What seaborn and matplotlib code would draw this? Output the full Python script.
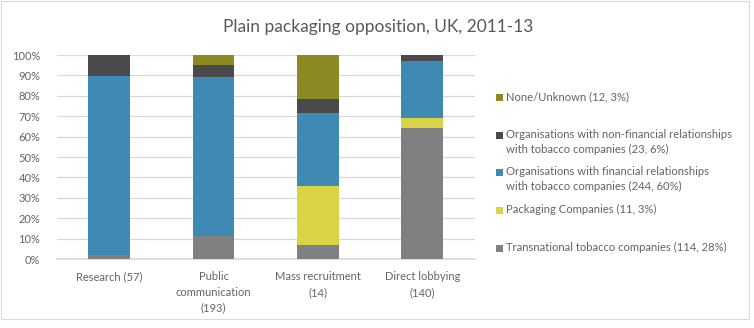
import numpy as np
import pandas as pd
import matplotlib
matplotlib.use("Agg")
import matplotlib.pyplot as plt
import seaborn as sns
from matplotlib.patches import Rectangle

categories = ["Research (57)", "Public\ncommunication\n(193)", "Mass recruitment\n(14)", "Direct lobbying\n(140)"]
series_names = [
    "Transnational tobacco companies (114, 28%)",
    "Packaging Companies (11, 3%)",
    "Organisations with financial relationships\nwith tobacco companies (244, 60%)",
    "Organisations with non-financial relationships\nwith tobacco companies (23, 6%)",
    "None/Unknown (12, 3%)",
]
transnational = [1.8, 11.4, 7.1, 64.3]
packaging = [0.0, 0.0, 28.6, 5.0]
financial = [87.7, 77.7, 35.7, 27.9]
non_financial = [10.5, 6.2, 7.1, 2.8]
none_unknown = [0.0, 4.7, 21.4, 0.0]
colors = ["#808082", "#D9D446", "#3F89B5", "#4A4A4D", "#8C8A22"]
yticks = [0, 10, 20, 30, 40, 50, 60, 70, 80, 90, 100]
ytick_labels = [f"{v}%" for v in yticks]

series = [transnational, packaging, financial, non_financial, none_unknown]

sns.set_theme(style="white")
plt.rcParams["font.family"] = ["Lato", "DejaVu Sans"]
text_color = "#646464"

fig = plt.figure(figsize=(7.54, 3.28), dpi=100)
ax = fig.add_axes([57 / 754, 1 - 259 / 328, (474.5 - 57) / 754, (259 - 55) / 328])

cum = np.cumsum(np.array(series), axis=0)
for i in range(len(series) - 1, -1, -1):
    df = pd.DataFrame({"cat": categories, "val": cum[i]})
    sns.barplot(data=df, x="cat", y="val", color=colors[i], width=0.4,
                saturation=1, ax=ax, order=categories, zorder=3,
                linewidth=0, edgecolor="none")

ax.set_ylim(0, 100)
ax.set_xlim(-0.5, 3.5)
ax.set_yticks(yticks)
ax.set_yticklabels(ytick_labels)
ax.set_xlabel("")
ax.set_ylabel("")
ax.grid(axis="y", color="#D9D9D9", linewidth=0.9, zorder=0)
for s in ["top", "right", "left"]:
    ax.spines[s].set_visible(False)
ax.spines["bottom"].set_color("#D9D9D9")
ax.tick_params(axis="y", length=0, pad=12, labelsize=8, labelcolor=text_color)
ax.tick_params(axis="x", length=0, pad=9, labelsize=8, labelcolor=text_color)
for lbl in ax.get_xticklabels():
    lbl.set_linespacing(1.5)

fig.text(378 / 754, 1 - 27 / 328, "Plain packaging opposition, UK, 2011-13",
         ha="center", va="center", fontsize=12.5, color="#595959")

# legend
leg_rows = [(4, 97), (3, 135), (2, 172), (1, 210), (0, 248)]
for idx, ypx in leg_rows:
    fig.patches.append(Rectangle((496 / 754, 1 - (ypx + 3.5) / 328), 7 / 754, 7 / 328,
                                 transform=fig.transFigure, facecolor=colors[idx],
                                 edgecolor="none"))
    fig.text(506 / 754, 1 - (ypx - 6) / 328, series_names[idx], ha="left", va="top",
             fontsize=8.1, color=text_color, linespacing=1.45)

# outer frame
fig.patches.append(Rectangle((0.5 / 754, 1 - 319 / 328), 748 / 754, 318.5 / 328,
                             transform=fig.transFigure, facecolor="none",
                             edgecolor="#D9D9D9", linewidth=0.8))

fig.savefig("out.png", dpi=100)
